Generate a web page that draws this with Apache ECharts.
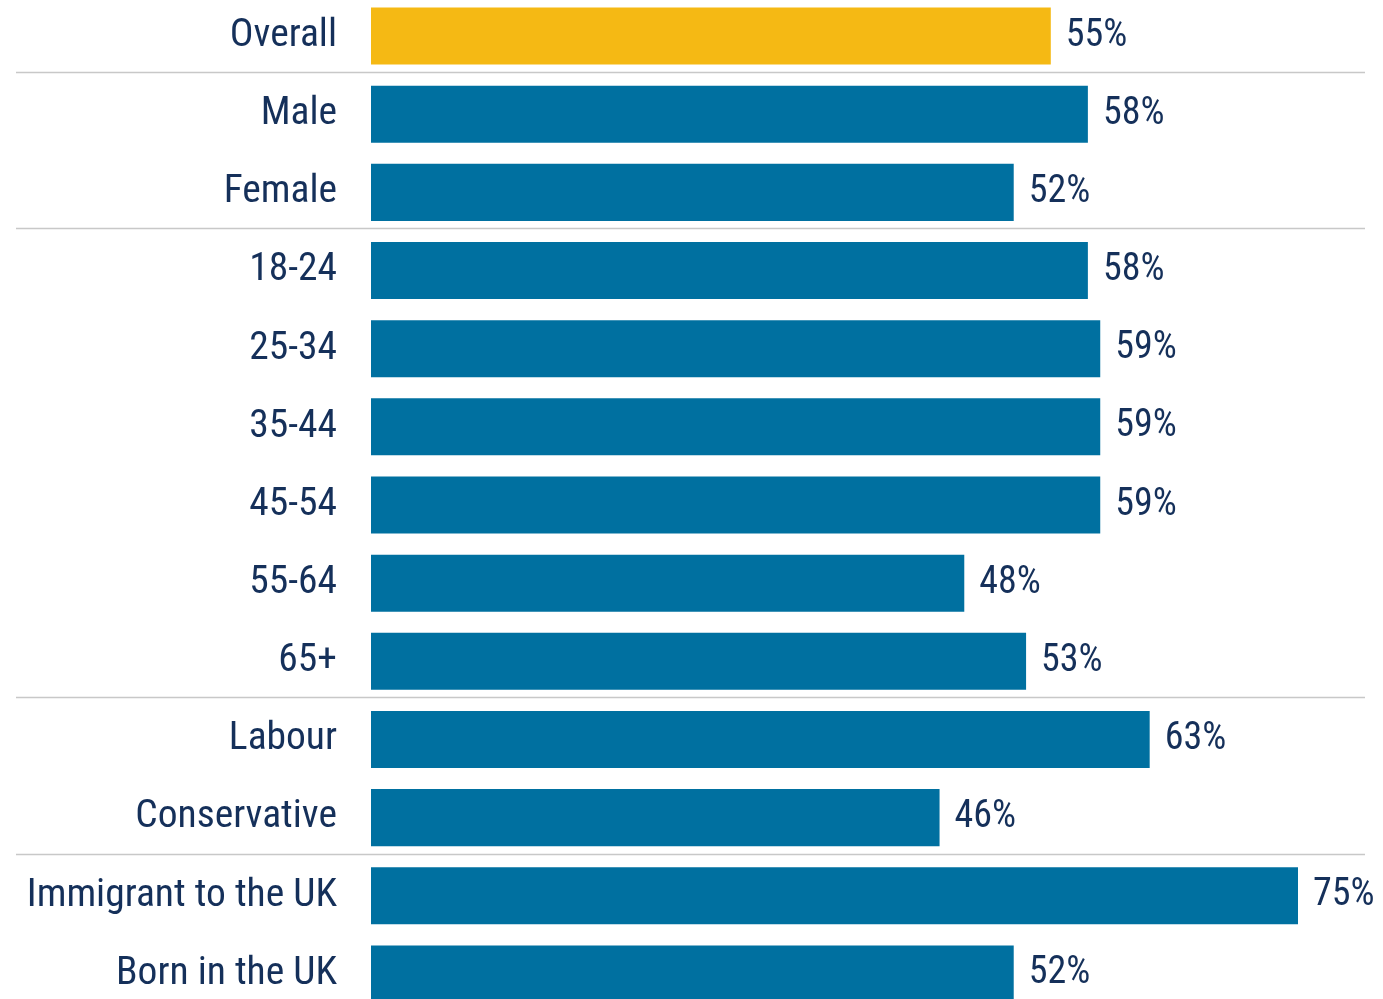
<!DOCTYPE html>
<html><head><meta charset="utf-8">
<script src="https://cdn.jsdelivr.net/npm/echarts@6/dist/echarts.min.js"></script>
<style>html,body{margin:0;padding:0;background:#fff}#c{width:1383px;height:999px}</style>
</head><body><div id="c"></div>
<script>
const categories = ["Overall","Male","Female","18-24","25-34","35-44","45-54","55-64","65+","Labour","Conservative","Immigrant to the UK","Born in the UK"];
const values = [55,58,52,58,59,59,59,48,53,63,46,75,52];
const highlight = ["Overall"];
const groupEnds = ["Overall","Female","65+","Conservative"]; // separator after these

const FONT = '"Liberation Sans Narrow","Arial Narrow","Roboto Condensed",sans-serif';
const TXT = '#15305a';
const chart = echarts.init(document.getElementById('c'), null, {renderer:'canvas'});
const option = {
  animation:false,
  grid:{left:371, top:-3, height:1016, width:988.8, containLabel:false, outerBoundsMode:'none'},
  xAxis:{type:'value', min:0, max:80, show:false},
  yAxis:{type:'category', inverse:true, data:categories,
    axisLine:{show:false}, axisTick:{show:false}, splitLine:{show:false},
    axisLabel:{margin:34, fontFamily:FONT, fontSize:39.5, color:TXT}},
  series:[{type:'bar', barCategoryGap:'27%',
    data: values.map((v,i)=>({value:v, itemStyle:{color: highlight.includes(categories[i]) ? '#f5b914' : '#0070a0'}})),
    label:{show:true, position:'right', distance:15, formatter:'{c}%', fontFamily:FONT, fontSize:38, color:TXT}
  }]
};
chart.setOption(option);
const lines = [];
groupEnds.forEach(name=>{
  const i = categories.indexOf(name);
  const y1 = chart.convertToPixel({yAxisIndex:0}, categories[i]);
  const y2 = chart.convertToPixel({yAxisIndex:0}, categories[i+1]);
  const y = Math.round((y1+y2)/2) - 2.5;
  lines.push({type:'line', shape:{x1:16, y1:y, x2:1365, y2:y}, style:{stroke:'#c8c8c8', lineWidth:1.5}});
});
chart.setOption({graphic:lines});
</script></body></html>
